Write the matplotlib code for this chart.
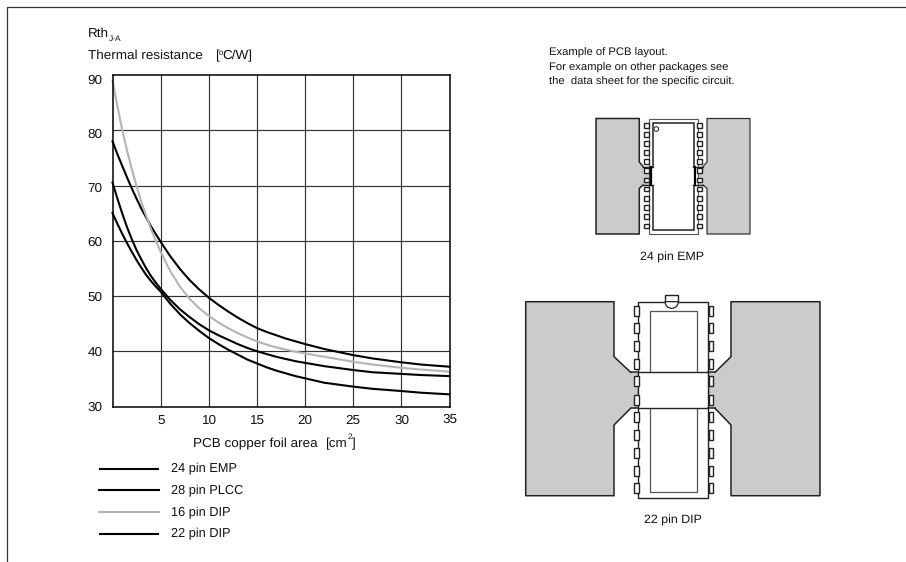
import matplotlib
matplotlib.use("Agg")
import matplotlib.pyplot as plt
from matplotlib.patches import Rectangle, Polygon, Circle, Wedge

plt.rcParams['font.family'] = ['Liberation Sans', 'DejaVu Sans']
plt.rcParams['text.hinting'] = 'none'
W, H = 906, 562

area = [0, .5, 1, 1.5, 2, 2.5, 3, 3.5, 4, 4.5, 5, 6, 7, 8, 9, 10, 11, 12, 13, 14, 15, 16, 17, 18, 19, 20, 22, 25, 27, 30, 32, 35]
emp_24 = [78, 75.7, 73.6, 71.5, 69.5, 67.6, 65.8, 64.2, 62.6, 61.2, 59.8, 57.2, 54.9, 52.9, 51.2, 49.7, 48.4, 47.2, 46.1, 45.1, 44.2, 43.5, 42.9, 42.3, 41.8, 41.3, 40.4, 39.3, 38.7, 38, 37.6, 37.2]
plcc_28 = [70.5, 67.7, 65, 62.5, 60.3, 58.3, 56.6, 55, 53.6, 52.4, 51.3, 49.3, 47.6, 46.2, 44.9, 43.8, 42.9, 42.1, 41.3, 40.6, 40, 39.5, 39, 38.6, 38.2, 37.9, 37.3, 36.6, 36.2, 35.9, 35.7, 35.5]
dip_16 = [89, 84.4, 80.2, 76.4, 73, 69.9, 67, 64.5, 62.1, 60, 58, 54.5, 51.7, 49.5, 47.8, 46.4, 45.2, 44.2, 43.3, 42.5, 41.8, 41.2, 40.7, 40.3, 39.9, 39.6, 39, 38.1, 37.6, 37, 36.7, 36.3]
dip_22 = [65, 63.1, 61.3, 59.6, 58, 56.5, 55.1, 53.8, 52.7, 51.7, 50.8, 48.6, 46.7, 45.1, 43.7, 42.4, 41.3, 40.3, 39.4, 38.5, 37.8, 37.1, 36.5, 36, 35.5, 35.1, 34.3, 33.6, 33.2, 32.8, 32.5, 32.2]
series_names = ['24 pin EMP', '28 pin PLCC', '16 pin DIP', '22 pin DIP']
x_ticks = [5, 10, 15, 20, 25, 30, 35]
y_ticks = [30, 40, 50, 60, 70, 80, 90]

fig = plt.figure(figsize=(W / 100, H / 100), dpi=100)
page = fig.add_axes([0, 0, 1, 1])
page.set_xlim(0, W); page.set_ylim(H, 0); page.axis('off')

page.plot([7, 7, W], [H, 7.3, 7.3], color='#333333', lw=0.9)

ax = fig.add_axes([112.5 / W, 1 - 406.5 / H, 337 / W, 331.5 / H])
ax.set_xlim(0, 35); ax.set_ylim(30, 90)
for s in ax.spines.values():
    s.set_linewidth(1.1); s.set_color('black')
ax.set_xticks(x_ticks[:-1]); ax.set_yticks(y_ticks[1:-1])
ax.grid(True, color='#333333', lw=0.85)
ax.tick_params(length=0, labelleft=False, labelbottom=False)
ax.set_axisbelow(True)
for vals, c in zip([emp_24, plcc_28, dip_16, dip_22], ['black', 'black', '#b4b4b4', 'black']):
    ax.plot(area, vals, color=c, lw=1.5, clip_on=False, solid_joinstyle='round')

fs = 9.2
fl = 9.7
tc = '#111111'
for v, py in zip(y_ticks, [411, 355.5, 300.5, 245.5, 192, 138, 83.5]):
    page.text(102.5, py, str(v), ha='right', va='baseline', fontsize=fl, color=tc)
for v, px, py in zip(x_ticks, [161, 209, 257, 305, 353, 402, 450], [425, 424, 425, 424, 424, 424, 423]):
    page.text(px, py, str(v), ha='center', va='baseline', fontsize=fl, color=tc)
page.text(88, 37, 'Rth', fontsize=fl, color=tc)
page.text(109, 41, 'J-A', fontsize=6, color=tc)
page.text(88, 59, 'Thermal resistance', fontsize=fl, color=tc)
page.text(215, 59, '[', fontsize=fl, color=tc)
page.text(218.5, 55, 'o', fontsize=5.5, color=tc)
page.text(222, 59, 'C/W]', fontsize=fl, color=tc)
page.text(193, 447, 'PCB copper foil area', fontsize=fl, color=tc)
page.text(325, 447, '[cm', fontsize=fl, color=tc)
page.text(347.5, 439, '2', fontsize=6, color=tc)
page.text(352, 447, ']', fontsize=fl, color=tc)

for name, c, py, base, x0, x1 in zip(series_names, ['black', 'black', '#b4b4b4', 'black'],
                               [468.5, 490, 512, 533.7], [472.3, 494.3, 516, 537],
                               [100, 99, 99, 100], [158, 159, 159, 158]):
    page.plot([x0, x1], [py, py], color=c, lw=1.5)
    page.text(171, base, name, fontsize=fs, color=tc)

for t, py in zip(['Example of PCB layout.', 'For example on other packages see',
                  'the  data sheet for the specific circuit.'], [55.5, 70.5, 85]):
    page.text(549, py, t, fontsize=8.1, color=tc)

GR = '#cbcbcb'
EDGE = '#222222'

# 24 pin EMP layout
page.add_patch(Polygon([(596, 118.5), (639.3, 118.5), (639.3, 162), (643, 166.5), (649, 166.5), (649, 185), (643, 185), (639.3, 188.5), (639.3, 234), (596, 234)],
                       closed=True, fc=GR, ec='none'))
page.add_patch(Polygon([(750, 118.5), (707, 118.5), (707, 162), (703, 166.5), (697, 166.5), (697, 185), (703, 185), (707, 188.5), (707, 234), (750, 234)],
                       closed=True, fc=GR, ec='none'))
page.plot([643, 639.3, 639.3, 596, 596, 639.3, 639.3, 643], [166.5, 162, 118.5, 118.5, 234, 234, 188.5, 185], color=EDGE, lw=1.1)
page.plot([703, 707, 707, 750, 750, 707, 707, 703], [166.5, 162, 118.5, 118.5, 234, 234, 188.5, 185], color='#333333', lw=0.9)
page.add_patch(Rectangle((648.5, 118.5), 49, 115, fc='white', ec='#555555', lw=0.8))
page.add_patch(Rectangle((652.5, 122.7), 41, 107, fc='white', ec=EDGE, lw=1.1))
page.add_patch(Circle((656.3, 129), 2.3, fc='white', ec='#333333', lw=0.8))
page.plot([643, 653], [166.5, 166.5], color=EDGE, lw=1.0, zorder=4)
page.plot([643, 653], [185, 185], color=EDGE, lw=1.0, zorder=4)
page.plot([693, 703], [166.5, 166.5], color=EDGE, lw=1.0, zorder=4)
page.plot([693, 703], [185, 185], color=EDGE, lw=1.0, zorder=4)
page.plot([651, 651], [166.5, 185], color='black', lw=1.6, zorder=4)
page.plot([695, 695], [166.5, 185], color='black', lw=1.6, zorder=4)
page.add_patch(Rectangle((652, 167), 42, 17.5, fc='white', ec='none', zorder=3))
for py in [125.7, 134.7, 143.7, 152.7, 161.7, 170.7, 180, 189, 198.3, 207.7, 216.7, 226]:
    for px in [644.3, 696.7]:
        page.add_patch(Rectangle((px, py - 2.4), 4.8, 4.8, fc='white', ec=EDGE, lw=1.0, zorder=5))
page.text(671.7, 261, '24 pin EMP', fontsize=8.9, color=tc, ha='center')

# 22 pin DIP layout
page.add_patch(Polygon([(525.7, 301.7), (614, 301.7), (614, 356.7), (630.7, 372.3), (638.3, 372.3), (638.3, 408.3), (630.7, 408.3), (614, 425), (614, 495.7), (525.7, 495.7)],
                       closed=True, fc=GR, ec='none'))
page.add_patch(Polygon([(820, 301.7), (731, 301.7), (731, 356.7), (715, 372.3), (708.3, 372.3), (708.3, 408.3), (715, 408.3), (731, 425), (731, 495.7), (820, 495.7)],
                       closed=True, fc=GR, ec='none'))
page.plot([630.7, 614, 614, 525.7, 525.7, 614, 614, 630.7], [372.3, 356.7, 301.7, 301.7, 495.7, 495.7, 425, 408.3], color=EDGE, lw=1.1)
page.plot([715, 731, 731, 820, 820, 731, 731, 715], [372.3, 356.7, 301.7, 301.7, 495.7, 495.7, 425, 408.3], color=EDGE, lw=1.1)
page.add_patch(Rectangle((638.3, 301.7), 70, 196, fc='white', ec=EDGE, lw=1.0, zorder=2))
page.add_patch(Rectangle((650.3, 310.7), 46.4, 181, fc='white', ec='#555555', lw=0.9, zorder=2))
page.add_patch(Rectangle((638.3, 372.3), 70, 36, fc='white', ec=EDGE, lw=1.0, zorder=2))
page.plot([630.7, 638.3], [372.3, 372.3], color=EDGE, lw=1.1)
page.plot([630.7, 638.3], [408.3, 408.3], color=EDGE, lw=1.1)
page.plot([708.3, 715], [372.3, 372.3], color=EDGE, lw=1.1)
page.plot([708.3, 715], [408.3, 408.3], color=EDGE, lw=1.1)
page.add_patch(Rectangle((665, 295), 13.3, 6.7, fc='white', ec=EDGE, lw=1.0, zorder=3))
page.add_patch(Wedge((671.7, 301.7), 6.6, 0, 180, fc='white', ec=EDGE, lw=0.9, zorder=3))
for py in [311, 328.3, 346, 364.3, 381, 399.7, 417.3, 435, 453.3, 470.7, 487.7]:
    page.add_patch(Rectangle((634, py - 5), 4.5, 10, fc='white', ec=EDGE, lw=1.0, zorder=3))
    page.add_patch(Rectangle((708.5, py - 5), 4.5, 10, fc='white', ec=EDGE, lw=1.0, zorder=3))
page.text(673, 524, '22 pin DIP', fontsize=8.9, color=tc, ha='center')

fig.savefig('out.png', dpi=100)
